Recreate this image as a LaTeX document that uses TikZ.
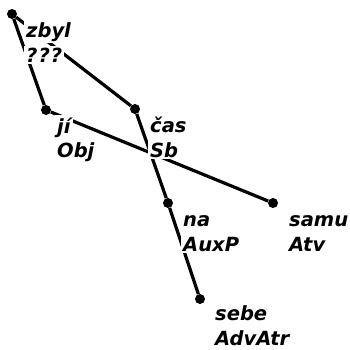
\documentclass[tikz,border=0pt]{standalone}
\usepackage{fontspec}
\newfontfamily\treefont{DejaVu Sans}
\usetikzlibrary{positioning}

\begin{document}
\begin{tikzpicture}[
    x=1pt, y=-1pt,
    dot/.style={circle, fill=black, inner sep=0pt, minimum size=10pt},
    edge/.style={line width=3.2pt, black},
    word/.style={fill=white, inner sep=2pt, anchor=base west, font=\treefont\fontsize{19.5}{24}\selectfont\bfseries\itshape},
    afun/.style={word}
]
\useasboundingbox (0,0) rectangle (350,349);

% Tree nodes
\node[dot] (zbyl) at (12,14) {};
\node[dot] (ji) at (46,110) {};
\node[dot] (cas) at (135,109) {};
\node[dot] (na) at (168,203) {};
\node[dot] (samu) at (273,203) {};
\node[dot] (sebe) at (200,299) {};

% Edges
\draw[edge] (zbyl) -- (ji);
\draw[edge] (zbyl) -- (cas);
\draw[edge] (ji) -- (samu);
\draw[edge] (cas) -- (na);
\draw[edge] (na) -- (sebe);

% Labels
\node[word] (zbyl_w) at ([shift={(12,23)}]zbyl) {zbyl};
\node[afun] (zbyl_a) at ([yshift=-25pt]zbyl_w.base west) {?\kern1pt?\kern1pt?};
\node[word] (ji_w) at ([shift={(9,23)}]ji) {jí};
\node[afun] (ji_a) at ([yshift=-24pt]ji_w.base west) {Obj};
\node[word] (cas_w) at ([shift={(13,23)}]cas) {čas};
\node[afun] (cas_a) at ([yshift=-25pt]cas_w.base west) {Sb};
\node[word] (na_w) at ([shift={(13,23)}]na) {na};
\node[afun] (na_a) at ([yshift=-25pt]na_w.base west) {AuxP};
\node[word] (samu_w) at ([shift={(14,23)}]samu) {samu};
\node[afun] (samu_a) at ([yshift=-25pt]samu_w.base west) {Atv};
\node[word] (sebe_w) at ([shift={(13,21)}]sebe) {sebe};
\node[afun] (sebe_a) at ([yshift=-25pt]sebe_w.base west) {AdvAtr};

\end{tikzpicture}
\end{document}
